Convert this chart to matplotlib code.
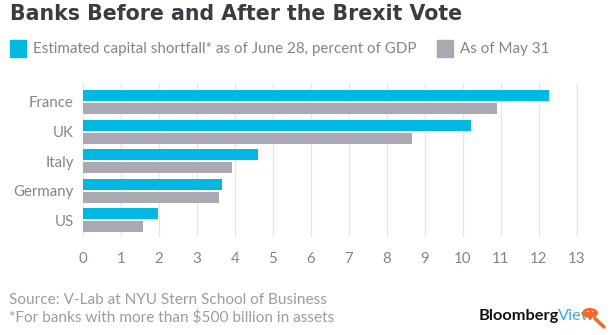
import numpy as np
import matplotlib
matplotlib.use('Agg')
import matplotlib.pyplot as plt
from matplotlib.patches import Rectangle, Circle
from matplotlib.lines import Line2D

# capital shortfall, percent of GDP
countries = ['France', 'UK', 'Italy', 'Germany', 'US']
june28 = [12.27, 10.23, 4.60, 3.66, 1.97]
may31 = [10.89, 8.67, 3.92, 3.59, 1.59]
xticks = list(range(0, 14))

title = 'Banks Before and After the Brexit Vote'
label_june = 'Estimated capital shortfall* as of June 28, percent of GDP'
label_may = 'As of May 31'
source = 'Source: V-Lab at NYU Stern School of Business'
footnote = '*For banks with more than $500 billion in assets'

BLUE = '#00b8e4'
GREY = '#a9a8b3'
TEXT = '#84848c'
NOTE = '#9c9ca4'
DARK = '#3b3b43'
ORANGE = '#f26a2a'

plt.rcParams['font.family'] = ['Lato', 'DejaVu Sans']

W, H = 610, 335
fig = plt.figure(figsize=(W / 100, H / 100), dpi=100)
fig.patch.set_facecolor('white')

def fx(px):
    return px / W

def fy(py):
    return 1 - py / H

# plot area
ax = fig.add_axes([fx(82), fy(237), fx(577.5) - fx(82), fy(83) - fy(237)])
y = np.arange(len(countries))
h = 0.37
ax.barh(y - 0.219, june28, height=h, color=BLUE, zorder=3)
ax.barh(y + 0.219, may31, height=h, color=GREY, zorder=3)
ax.set_xlim(-0.02, 13.02)
ax.set_ylim(4.56, -0.64)
ax.set_xticks(xticks)
ax.set_xticklabels([str(t) for t in xticks])
ax.set_yticks(y)
ax.set_yticklabels(countries)
ax.grid(axis='x', color='#e6e6e9', lw=0.9, zorder=0)
ax.tick_params(length=0, colors=TEXT, labelsize=10.8)
ax.tick_params(axis='x', pad=11)
ax.tick_params(axis='y', pad=6)
for s in ax.spines.values():
    s.set_visible(False)

# title, stretched to its column width
t = fig.text(fx(10), fy(19.5), title, fontsize=13.5, fontweight='bold',
             family=['DejaVu Sans'], color=DARK, va='baseline', ha='left')
r = fig.canvas.get_renderer()
t.set_fontsize(13.5 * 452 / t.get_window_extent(r).width)

# legend
fig.patches.append(Rectangle((fx(10), fy(57)), fx(16), fy(40) - fy(57),
                             transform=fig.transFigure, color=BLUE))
fig.text(fx(33), fy(48.5), label_june, fontsize=10.9, color=TEXT,
         va='center', ha='left')
fig.patches.append(Rectangle((fx(437), fy(57)), fx(16), fy(40) - fy(57),
                             transform=fig.transFigure, color=GREY))
fig.text(fx(460), fy(48.5), label_may, fontsize=10.9, color=TEXT,
         va='center', ha='left')

# source notes
fig.text(fx(9), fy(300), source, fontsize=11.1, color=NOTE,
         va='center', ha='left')
fig.text(fx(9), fy(317), footnote, fontsize=11.1, color=NOTE,
         va='center', ha='left')

# logo
fig.text(fx(479), fy(320), 'Bloomberg', fontsize=11.8, fontweight='bold',
         color='#111111', va='baseline', ha='left')
fig.text(fx(557.5), fy(320), 'View', fontsize=11.8, color='#39ace2',
         va='baseline', ha='left')
fig.patches.append(Circle((fx(590), fy(313)), 6.5 / W, transform=fig.transFigure,
                          facecolor='white', edgecolor=ORANGE, lw=2.0,
                          zorder=5))
fig.lines.append(Line2D([fx(595), fx(604)], [fy(318.5), fy(327)],
                        transform=fig.transFigure, color=ORANGE, lw=2.6,
                        solid_capstyle='round', zorder=5))
fig.lines.append(Line2D([fx(586), fx(594)], [fy(313), fy(313)],
                        transform=fig.transFigure, color=ORANGE, lw=2.2,
                        zorder=6))
fig.lines.append(Line2D([fx(590), fx(590)], [fy(309), fy(317)],
                        transform=fig.transFigure, color=ORANGE, lw=2.2,
                        zorder=6))

fig.savefig('out.png', dpi=100)
